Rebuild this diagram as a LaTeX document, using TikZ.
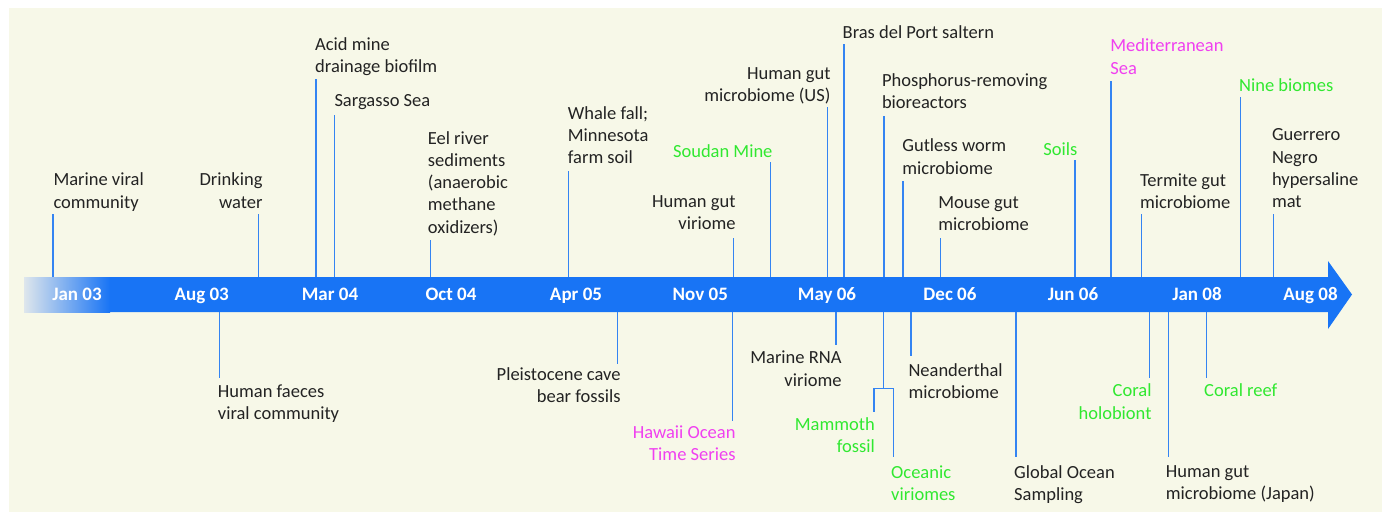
\documentclass[tikz,border=0pt]{standalone}
\usepackage{fontspec}
\setmainfont{Carlito}
\definecolor{bgcream}{RGB}{247,248,232}
\definecolor{bandblue}{RGB}{24,116,245}
\definecolor{bandpale}{RGB}{222,230,236}
\definecolor{tickblue}{RGB}{52,132,242}
\definecolor{txtdark}{RGB}{35,35,35}
\definecolor{txtgreen}{RGB}{48,232,48}
\definecolor{txtpink}{RGB}{240,64,240}

\begin{document}
\begin{tikzpicture}[x=1pt,y=-1pt,
  evleft/.style={font=\fontsize{18.5}{22.3}\selectfont, text=txtdark, inner sep=0pt, align=left, anchor=north west},
  evright/.style={font=\fontsize{18.5}{22.3}\selectfont, text=txtdark, inner sep=0pt, align=right, anchor=north east},
  datelbl/.style={font=\fontsize{19}{22}\selectfont\bfseries, text=white, inner sep=0pt, anchor=base},
  tick/.style={draw=tickblue, line width=1.3pt}]
  \useasboundingbox (0,0) rectangle (1382,512);
  \fill[bgcream] (9,8) rectangle (1382,512);
  \def\bandtop{277}
  \def\bandbot{312}
  %time band
  \fill[bandblue] (24,\bandtop) -- (1328,\bandtop) -- (1328,261) -- (1352,294.5)
    -- (1328,329) -- (1328,\bandbot) -- (24,\bandbot) -- cycle;
  \fill[left color=bandpale, right color=bandblue] (24,\bandtop) rectangle (110,\bandbot);
  \node[datelbl] (jan03) at (77,300.7) {Jan 03};
  \node[datelbl] (aug03) at (201.7,300.7) {Aug 03};
  \node[datelbl] (mar04) at (330,300.7) {Mar 04};
  \node[datelbl] (oct04) at (451,300.7) {Oct 04};
  \node[datelbl] (apr05) at (576,300.7) {Apr 05};
  \node[datelbl] (nov05) at (700.3,300.7) {Nov 05};
  \node[datelbl] (may06) at (827,300.7) {May 06};
  \node[datelbl] (dec06) at (950,300.7) {Dec 06};
  \node[datelbl] (jun06) at (1073,300.7) {Jun 06};
  \node[datelbl] (jan08) at (1197,300.7) {Jan 08};
  \node[datelbl] (aug08) at (1310.5,300.7) {Aug 08};

  %above the band
  \node[evleft] (marine) at (53.3,172.7) {Marine viral\\community};
  \coordinate (b-marine) at (53,\bandtop);
  \coordinate (t-marine) at (53,214);
  \draw[tick] (b-marine) -- (t-marine);
  \node[evright] (drink) at (262.7,172.7) {Drinking\\water};
  \coordinate (b-drink) at (258.5,\bandtop);
  \coordinate (t-drink) at (258.5,214);
  \draw[tick] (b-drink) -- (t-drink);
  \node[evleft] (acid) at (315,37) {Acid mine\\drainage biofilm};
  \coordinate (b-acid) at (316,\bandtop);
  \coordinate (t-acid) at (316,79.3);
  \draw[tick] (b-acid) -- (t-acid);
  \node[evleft] (sarg) at (334.3,94.3) {Sargasso Sea};
  \coordinate (b-sarg) at (334.3,\bandtop);
  \coordinate (t-sarg) at (334.3,115);
  \draw[tick] (b-sarg) -- (t-sarg);
  \node[evleft] (eel) at (427.7,131) {Eel river\\sediments\\(anaerobic\\methane\\oxidizers)};
  \coordinate (b-eel) at (430.5,\bandtop);
  \coordinate (t-eel) at (430.5,240);
  \draw[tick] (b-eel) -- (t-eel);
  \node[evleft] (whale) at (567.7,106) {Whale fall;\\Minnesota\\farm soil};
  \coordinate (b-whale) at (568.7,\bandtop);
  \coordinate (t-whale) at (568.7,171);
  \draw[tick] (b-whale) -- (t-whale);
  \node[evright] (hgvir) at (735.7,195.3) {Human gut\\viriome};
  \coordinate (b-hgvir) at (733.3,\bandtop);
  \coordinate (t-hgvir) at (733.3,238.3);
  \draw[tick] (b-hgvir) -- (t-hgvir);
  \node[evright, text=txtgreen] (soudan) at (772.7,144.7) {Soudan Mine};
  \coordinate (b-soudan) at (770.7,\bandtop);
  \coordinate (t-soudan) at (770.7,162.3);
  \draw[tick] (b-soudan) -- (t-soudan);
  \node[evright] (hgus) at (830.7,67) {Human gut\\microbiome (US)};
  \coordinate (b-hgus) at (827.5,\bandtop);
  \coordinate (t-hgus) at (827.5,107.3);
  \draw[tick] (b-hgus) -- (t-hgus);
  \node[evleft] (bras) at (842.5,25.3) {Bras del Port saltern};
  \coordinate (b-bras) at (844,\bandtop);
  \coordinate (t-bras) at (844,44.3);
  \draw[tick] (b-bras) -- (t-bras);
  \node[evleft] (phos) at (881.8,73) {Phosphorus-removing\\bioreactors};
  \coordinate (b-phos) at (883.9,\bandtop);
  \coordinate (t-phos) at (883.9,115.7);
  \draw[tick] (b-phos) -- (t-phos);
  \node[evleft] (worm) at (902.2,138.7) {Gutless worm\\microbiome};
  \coordinate (b-worm) at (902.9,\bandtop);
  \coordinate (t-worm) at (902.9,181);
  \draw[tick] (b-worm) -- (t-worm);
  \node[evleft] (mouse) at (938.1,196.3) {Mouse gut\\microbiome};
  \coordinate (b-mouse) at (940.2,\bandtop);
  \coordinate (t-mouse) at (940.2,238.3);
  \draw[tick] (b-mouse) -- (t-mouse);
  \node[evright, text=txtgreen] (soils) at (1077.5,142) {Soils};
  \coordinate (b-soils) at (1075,\bandtop);
  \coordinate (t-soils) at (1075,160);
  \draw[tick] (b-soils) -- (t-soils);
  \node[evleft, text=txtpink] (medit) at (1110.2,38.7) {Mediterranean\\Sea};
  \coordinate (b-medit) at (1111,\bandtop);
  \coordinate (t-medit) at (1111,80.7);
  \draw[tick] (b-medit) -- (t-medit);
  \node[evleft] (termite) at (1139.8,173.7) {Termite gut\\microbiome};
  \coordinate (b-termite) at (1141.2,\bandtop);
  \coordinate (t-termite) at (1141.2,214.3);
  \draw[tick] (b-termite) -- (t-termite);
  \node[evleft, text=txtgreen] (nine) at (1238.9,78.7) {Nine biomes};
  \coordinate (b-nine) at (1240.2,\bandtop);
  \coordinate (t-nine) at (1240.2,97.3);
  \draw[tick] (b-nine) -- (t-nine);
  \node[evleft] (guerrero) at (1271.8,128.7) {Guerrero\\Negro\\hypersaline\\mat};
  \coordinate (b-guerrero) at (1273.6,\bandtop);
  \coordinate (t-guerrero) at (1273.6,214.3);
  \draw[tick] (b-guerrero) -- (t-guerrero);

  %below the band
  \node[evleft] (faeces) at (217.7,384.3) {Human faeces\\viral community};
  \coordinate (b-faeces) at (219.3,\bandbot);
  \coordinate (t-faeces) at (219.3,378.3);
  \draw[tick] (b-faeces) -- (t-faeces);
  \node[evright] (cave) at (620.7,367) {Pleistocene cave\\bear fossils};
  \coordinate (b-cave) at (617.7,\bandbot);
  \coordinate (t-cave) at (617.7,364.3);
  \draw[tick] (b-cave) -- (t-cave);
  \node[evright, text=txtpink] (hawaii) at (735.7,425.3) {Hawaii Ocean\\Time Series};
  \coordinate (b-hawaii) at (732.3,\bandbot);
  \coordinate (t-hawaii) at (732.3,420.7);
  \draw[tick] (b-hawaii) -- (t-hawaii);
  \node[evright] (rna) at (841.7,351) {Marine RNA\\viriome};
  \coordinate (b-rna) at (836,\bandbot);
  \coordinate (t-rna) at (836,345);
  \draw[tick] (b-rna) -- (t-rna);
  \node[evright, text=txtgreen] (mammoth) at (875,417) {Mammoth\\fossil};
  \node[evleft, text=txtgreen] (oceanic) at (891,465.3) {Oceanic\\viriomes};
  \coordinate (b-fork) at (883.3,\bandbot);
  \coordinate (j-fork) at (883.3,388.3);
  \coordinate (jl-fork) at (874,388.3);
  \coordinate (jr-fork) at (893.3,388.3);
  \coordinate (t-mammoth) at (874,411.7);
  \coordinate (t-oceanic) at (893.3,457.3);
  \draw[tick] (b-fork) -- (j-fork);
  \draw[tick] (t-mammoth) -- (jl-fork) -- (jr-fork) -- (t-oceanic);
  \node[evleft] (neander) at (908.3,363) {Neanderthal\\microbiome};
  \coordinate (b-neander) at (911,\bandbot);
  \coordinate (t-neander) at (911,355.7);
  \draw[tick] (b-neander) -- (t-neander);
  \node[evleft] (gos) at (1014,465.3) {Global Ocean\\Sampling};
  \coordinate (b-gos) at (1016,\bandbot);
  \coordinate (t-gos) at (1016,457.3);
  \draw[tick] (b-gos) -- (t-gos);
  \node[evright, text=txtgreen] (holo) at (1151.7,383.7) {Coral\\holobiont};
  \coordinate (b-holo) at (1149.7,\bandbot);
  \coordinate (t-holo) at (1149.7,378.3);
  \draw[tick] (b-holo) -- (t-holo);
  \node[evleft] (japan) at (1165.7,465.3) {Human gut\\microbiome (Japan)};
  \coordinate (b-japan) at (1168.3,\bandbot);
  \coordinate (t-japan) at (1168.3,456.7);
  \draw[tick] (b-japan) -- (t-japan);
  \node[evleft, text=txtgreen] (reef) at (1204,383.7) {Coral reef};
  \coordinate (b-reef) at (1206.3,\bandbot);
  \coordinate (t-reef) at (1206.3,378.3);
  \draw[tick] (b-reef) -- (t-reef);
\end{tikzpicture}
\end{document}
